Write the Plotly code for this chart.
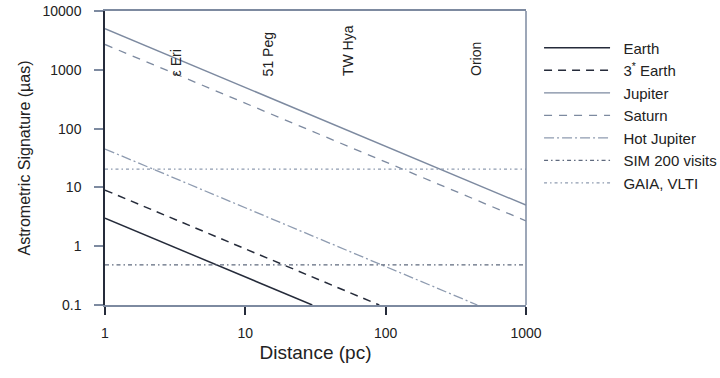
import math
import plotly.graph_objects as go

# Data
earth_x = [1, 30]
earth_y = [3, 0.1]
earth3_x = [1, 90]
earth3_y = [9, 0.1]
jupiter_x = [1, 1000]
jupiter_y = [5000, 5]
saturn_x = [1, 1000]
saturn_y = [2700, 2.7]
hotjup_x = [1, 450]
hotjup_y = [45, 0.1]
sim_x = [1, 1000]
sim_y = [0.48, 0.48]
gaia_x = [1, 1000]
gaia_y = [20.5, 20.5]

star_names = ["ε Eri", "51 Peg", "TW Hya", "Orion"]
star_dist = [3.2, 14.6, 53.5, 440]
star_label_y = 725

DARK = "#252b3a"
GRAY = "#7d8aa0"
LIGHT = "#8e9bb0"
FONT = "Liberation Sans, Arial, sans-serif"
PAD = "\u00a0\u00a0"

fig = go.Figure()
series = [
    ("Earth", earth_x, earth_y, DARK, "solid", 1.5),
    ("3<sup>*</sup> Earth", earth3_x, earth3_y, DARK, "8px,6px", 1.5),
    ("Jupiter", jupiter_x, jupiter_y, GRAY, "solid", 1.4),
    ("Saturn", saturn_x, saturn_y, GRAY, "8px,7px", 1.3),
    ("Hot Jupiter", hotjup_x, hotjup_y, LIGHT, "10px,3px,2px,3px", 1.3),
    ("SIM 200 visits", sim_x, sim_y, "#5f6a7e", "4px,3px,1.5px,3px", 1.3),
    ("GAIA, VLTI", gaia_x, gaia_y, LIGHT, "3px,3px,1.5px,3px", 1.3),
]
for i, (name, x, y, c, d, w) in enumerate(series):
    fig.add_trace(go.Scatter(x=x, y=y, mode="lines", name=PAD + name,
                             line=dict(color=c, dash=d, width=w),
                             legendgroup=f"g{i}"))

for n, dx in zip(star_names, star_dist):
    fig.add_annotation(x=math.log10(dx), y=math.log10(star_label_y),
                       text=n, textangle=-90, showarrow=False,
                       xanchor="center", yanchor="bottom",
                       font=dict(family=FONT, size=14, color="#222"))

fig.add_shape(type="line", xref="paper", yref="paper", x0=1, x1=1, y0=0, y1=1,
              line=dict(color=GRAY, width=1.5))

fig.update_layout(
    width=720, height=378,
    margin=dict(l=105, r=194, t=11, b=73, autoexpand=False),
    paper_bgcolor="white", plot_bgcolor="white",
    font=dict(family=FONT, size=14, color="#222"),
    showlegend=True,
    legend=dict(x=1.031, xanchor="left", y=0.93, yanchor="top",
                font=dict(family=FONT, size=15, color="#222"),
                itemwidth=66, tracegroupgap=0, bgcolor="rgba(0,0,0,0)"),
)
fig.update_xaxes(type="log", range=[0, 3], showgrid=False, zeroline=False,
                 automargin=False,
                 showline=True, linecolor=GRAY, linewidth=1.5, mirror=True,
                 ticks="outside", ticklen=8, tickcolor=DARK, tickwidth=1.5,
                 tickvals=[1, 10, 100, 1000], ticktext=["1", "10", "100", "1000"],
                 tickfont=dict(family=FONT, size=14), ticklabelstandoff=6,
                 title=dict(text="Distance (pc)", font=dict(family=FONT, size=19), standoff=6))
fig.update_yaxes(type="log", range=[-1, 4], showgrid=False, zeroline=False,
                 automargin=False,
                 showline=True, linecolor=DARK, linewidth=1.5,
                 ticks="outside", ticklen=9, tickcolor=GRAY, tickwidth=1.5,
                 tickvals=[0.1, 1, 10, 100, 1000, 10000],
                 ticktext=["0.1", "1", "10", "100", "1000", "10000"],
                 tickfont=dict(family=FONT, size=14), ticklabelstandoff=10,
                 title=dict(text="Astrometric Signature (µas)", font=dict(family=FONT, size=16), standoff=8))

fig.write_html("out.html")
